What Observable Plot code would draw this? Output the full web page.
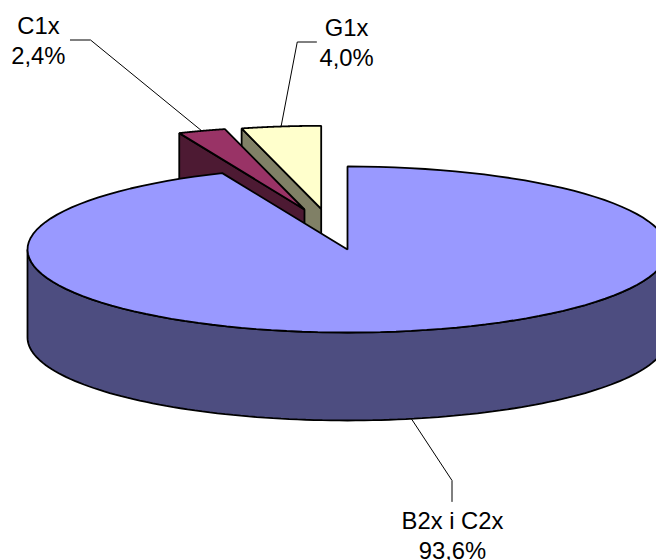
<!DOCTYPE html>
<html>
<head>
<meta charset="utf-8">
<style>
  html, body { margin: 0; padding: 0; background: #fff; overflow: hidden; }
</style>
<script src="https://cdn.jsdelivr.net/npm/d3@7"></script>
<script src="https://cdn.jsdelivr.net/npm/@observablehq/plot@0.6"></script>
</head>
<body>
<div id="chart"></div>
<script>
// Share of each grade, clockwise from twelve o'clock.
const categories = ["B2x i C2x", "C1x", "G1x"];
const shares = [93.6, 2.4, 4.0];

const topColors = ["#9999FF", "#993366", "#FFFFCC"];
const sideColors = ["#4D4D80", "#4D1A33", "#808066"];

// Pie space: the rim has radius 1 on both axes; the scales below flatten it into an ellipse.
const depth = 1.06;
const explode = [[0, 0], [-0.1344, 0.482], [-0.0822, 0.49]];
const elbows = [
  [[0.3266, -2.783], [0.3266, -3.036]],
  [[-0.803, 2.524], [-0.866, 2.524]],
  [[-0.157, 2.5], [-0.097, 2.5]]
];
const labelPos = [[0.328, -3.109], [-0.966, 2.855], [-0.003, 2.831]];

const rad = (deg) => (deg * Math.PI) / 180;
const rimPoint = (deg, [ox, oy], drop = 0) => [
  ox + Math.sin(rad(deg)),
  oy + Math.cos(rad(deg)) - drop
];
const arc = (from, to, off, drop = 0) =>
  d3.range(0, 121).map((i) => rimPoint(from + ((to - from) * i) / 120, off, drop));

// Start and end angle of each slice, from the shares.
let running = 0;
const slices = shares.map((share, i) => {
  const start = (running / 100) * 360;
  running += share;
  return {i, start, end: (running / 100) * 360, off: explode[i]};
});

const sector = ({start, end, off}) => [off, ...arc(start, end, off)];
const cutFace = ({start, off}) => [
  rimPoint(start, off),
  off,
  [off[0], off[1] - depth],
  rimPoint(start, off, depth)
];

const [main, c1x, g1x] = slices;
const shapes = [
  {points: cutFace(g1x), fill: sideColors[2]},
  {points: sector(g1x), fill: topColors[2]},
  {points: cutFace(c1x), fill: sideColors[1]},
  {points: sector(c1x), fill: topColors[1]},
  {
    points: [...arc(90, 270, main.off), ...arc(270, 90, main.off, depth)],
    fill: sideColors[0]
  },
  {points: sector(main), fill: topColors[0]}
];

// Leader lines run from the middle of each slice's rim out to its label.
const leaders = slices.map((s, i) => {
  const mid = (s.start + s.end) / 2;
  const from = rimPoint(mid, s.off, i === 0 ? depth : 0);
  return [from, ...elbows[i]];
});

const percent = (v) => v.toFixed(1).replace(".", ",") + "%";
const labels = categories.map((name, i) => ({
  text: `${name}\n${percent(shares[i])}`,
  x: labelPos[i][0],
  y: labelPos[i][1]
}));

const chart = Plot.plot({
  width: 656,
  height: 560,
  margin: 0,
  style: {background: "#fff"},
  x: {axis: null, domain: [-347 / 320, 309 / 320], range: [0, 656]},
  y: {axis: null, domain: [3, -311 / 83], range: [0, 560]},
  marks: [
    ...leaders.map((pts) =>
      Plot.line(pts, {x: (d) => d[0], y: (d) => d[1], stroke: "#000", strokeWidth: 1})
    ),
    ...shapes.map((s) =>
      Plot.line(s.points, {
        x: (d) => d[0],
        y: (d) => d[1],
        curve: "linear-closed",
        fill: s.fill,
        stroke: "#000",
        strokeWidth: 1.8,
        strokeLinejoin: "miter"
      })
    ),
    Plot.text(labels, {
      x: "x",
      y: "y",
      text: "text",
      textAnchor: "middle",
      lineAnchor: "top",
      lineHeight: 1.26,
      fontFamily: "Liberation Sans",
      fontSize: 23.8,
      fill: "#000"
    })
  ]
});

document.getElementById("chart").appendChild(chart);
</script>
</body>
</html>
